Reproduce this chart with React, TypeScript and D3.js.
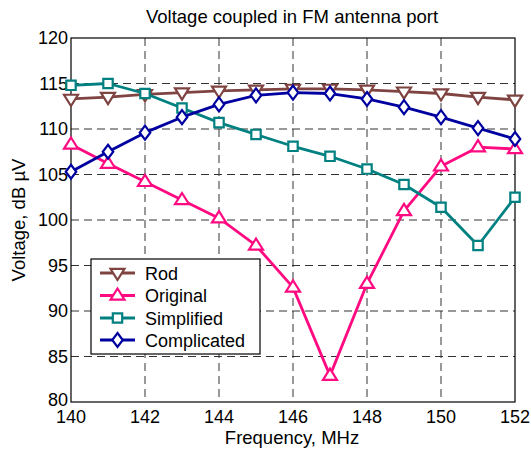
import React from "react";
import * as d3 from "d3";

const freqs = [140, 141, 142, 143, 144, 145, 146, 147, 148, 149, 150, 151, 152];
const rod = [113.3, 113.5, 113.8, 114.0, 114.2, 114.3, 114.4, 114.4, 114.3, 114.1, 113.9, 113.5, 113.2];
const original = [108.3, 106.2, 104.2, 102.2, 100.2, 97.2, 92.6, 82.9, 93.0, 101.0, 105.9, 108.0, 107.8];
const simplified = [114.8, 115.0, 113.9, 112.3, 110.7, 109.4, 108.1, 107.0, 105.6, 103.9, 101.4, 97.2, 102.5];
const complicated = [105.3, 107.5, 109.6, 111.3, 112.7, 113.7, 114.0, 113.9, 113.3, 112.4, 111.3, 110.1, 108.9];
const xTicks = [140, 142, 144, 146, 148, 150, 152];
const yTicks = [80, 85, 90, 95, 100, 105, 110, 115, 120];

const seriesNames = ["Rod", "Original", "Simplified", "Complicated"];
const seriesData = [rod, original, simplified, complicated];
const seriesColors = ["#7f4441", "#ff0a80", "#008080", "#0000a0"];
const seriesMarkers = ["tri-down", "tri-up", "square", "diamond"];

const W = 531, H = 450;
const M = { left: 71, right: 515, top: 38, bottom: 402 };
const FONT = "Arial, 'Liberation Sans', Helvetica, sans-serif";

function Marker({ kind, x, y, color }: { kind: string; x: number; y: number; color: string }) {
  const s = 7;
  let d = "";
  if (kind === "tri-up") {
    d = `M${x},${y - s} L${x + s},${y + s * 0.6} L${x - s},${y + s * 0.6} Z`;
  } else if (kind === "tri-down") {
    d = `M${x},${y + s} L${x + s},${y - s * 0.6} L${x - s},${y - s * 0.6} Z`;
  } else if (kind === "square") {
    const q = 4.7;
    d = `M${x - q},${y - q} H${x + q} V${y + q} H${x - q} Z`;
  } else {
    const q = 7;
    d = `M${x},${y - q} L${x + q * 0.75},${y} L${x},${y + q} L${x - q * 0.75},${y} Z`;
  }
  return <path d={d} fill="white" stroke={color} strokeWidth={2.2} />;
}

export default function App() {
  const x = d3.scaleLinear().domain([140, 152]).range([M.left, M.right]);
  const y = d3.scaleLinear().domain([80, 120]).range([M.bottom, M.top]);
  const line = d3
    .line<number>()
    .x((_, i) => x(freqs[i]))
    .y((v) => y(v));

  const legend = { x0: 91, y0: 259, x1: 260, y1: 354 };
  const legendRowY = [273, 295.5, 318, 340];

  return (
    <svg
      width={W}
      height={H}
      style={{ position: "absolute", left: 0, top: 0, background: "white" }}
      fontFamily={FONT}
    >
      <rect x={0} y={0} width={W} height={H} fill="white" />
      {/* grid */}
      {xTicks.slice(1, -1).map((t) => (
        <line key={"gx" + t} x1={x(t)} x2={x(t)} y1={M.top} y2={M.bottom} stroke="#333" strokeWidth={1} strokeDasharray="8,5" />
      ))}
      {yTicks.slice(1, -1).map((t) => (
        <line key={"gy" + t} x1={M.left} x2={M.right} y1={y(t)} y2={y(t)} stroke="#333" strokeWidth={1} strokeDasharray="8,5" />
      ))}
      {/* axes box */}
      <rect x={M.left} y={M.top} width={M.right - M.left} height={M.bottom - M.top} fill="none" stroke="black" strokeWidth={1.2} />
      {/* tick labels */}
      {xTicks.map((t) => (
        <text key={"xt" + t} x={x(t)} y={M.bottom + 21} fontSize={18} textAnchor="middle" fill="black">
          {t}
        </text>
      ))}
      {yTicks.map((t) => (
        <text key={"yt" + t} x={M.left - 3} y={y(t) + (t === 80 ? 3.5 : 6)} fontSize={18} textAnchor="end" fill="black">
          {t}
        </text>
      ))}
      {/* series */}
      {seriesData.map((data, si) => (
        <g key={seriesNames[si]}>
          <path d={line(data) || ""} fill="none" stroke={seriesColors[si]} strokeWidth={2.8} strokeLinejoin="round" />
          {data.map((v, i) => (
            <Marker key={i} kind={seriesMarkers[si]} x={x(freqs[i])} y={y(v)} color={seriesColors[si]} />
          ))}
        </g>
      ))}
      {/* legend */}
      <rect x={legend.x0} y={legend.y0} width={legend.x1 - legend.x0} height={legend.y1 - legend.y0} fill="white" stroke="black" strokeWidth={1.2} />
      {seriesNames.map((name, si) => (
        <g key={"lg" + name}>
          <line x1={100} x2={135} y1={legendRowY[si]} y2={legendRowY[si]} stroke={seriesColors[si]} strokeWidth={2.8} />
          <Marker kind={seriesMarkers[si]} x={117.5} y={legendRowY[si]} color={seriesColors[si]} />
          <text x={145} y={legendRowY[si] + 6.5} fontSize={18} fill="black">
            {name}
          </text>
        </g>
      ))}
      {/* title & labels */}
      <text x={292} y={23} fontSize={18.5} textAnchor="middle" fill="black">
        Voltage coupled in FM antenna port
      </text>
      <text x={292} y={444} fontSize={18.5} textAnchor="middle" fill="black">
        Frequency, MHz
      </text>
      <text transform="translate(25,220) rotate(-90)" fontSize={18.5} textAnchor="middle" fill="black">
        Voltage, dB µV
      </text>
    </svg>
  );
}
